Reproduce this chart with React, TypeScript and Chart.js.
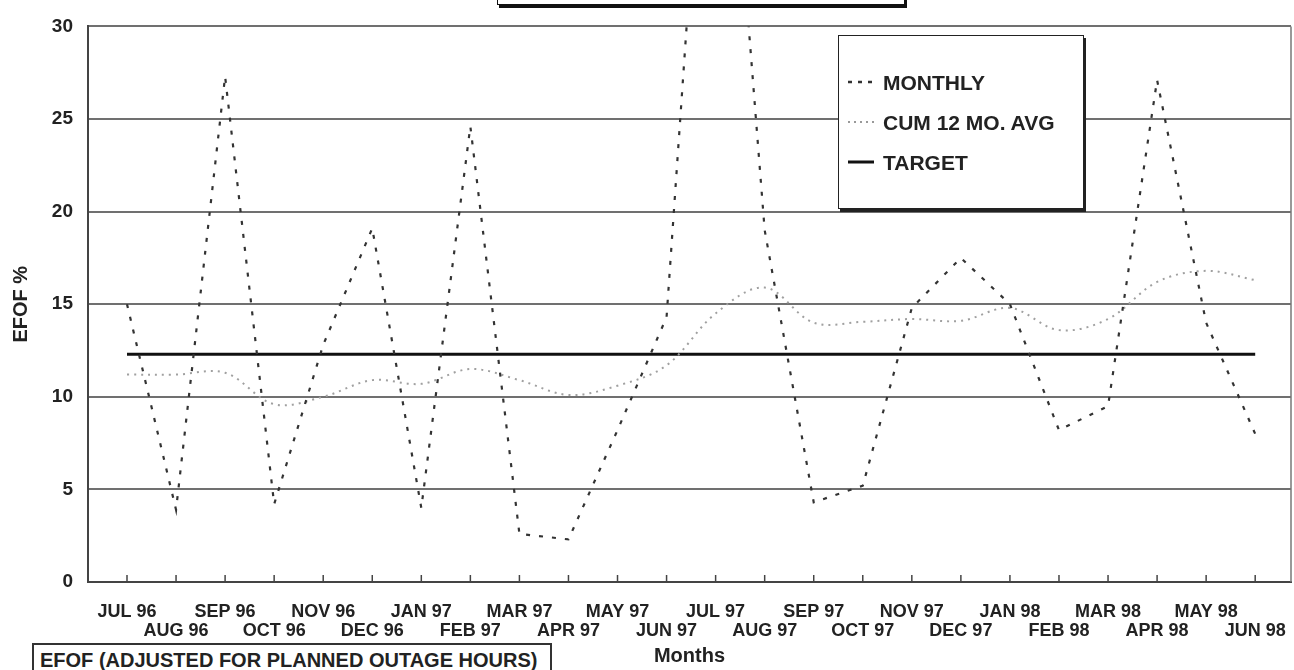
import React, { useEffect, useRef } from "react";
import { Chart, registerables } from "chart.js";

Chart.register(...registerables);

const FONT = "'Liberation Sans', Arial, sans-serif";

const months = [
  "JUL 96", "AUG 96", "SEP 96", "OCT 96", "NOV 96", "DEC 96",
  "JAN 97", "FEB 97", "MAR 97", "APR 97", "MAY 97", "JUN 97",
  "JUL 97", "AUG 97", "SEP 97", "OCT 97", "NOV 97", "DEC 97",
  "JAN 98", "FEB 98", "MAR 98", "APR 98", "MAY 98", "JUN 98",
];

const monthly = [
  15.0, 3.9, 27.3, 4.2, 12.8, 19.1,
  4.0, 24.6, 2.6, 2.3, 8.2, 14.3,
  52.7, 19.0, 4.3, 5.2, 14.8, 17.5,
  15.0, 8.2, 9.5, 27.1, 14.0, 8.0,
];

const cumAvg = [
  11.2, 11.2, 11.3, 9.6, 10.0, 10.9,
  10.7, 11.5, 10.9, 10.1, 10.6, 11.7,
  14.5, 15.9, 14.0, 14.05, 14.2, 14.1,
  14.8, 13.6, 14.2, 16.2, 16.8, 16.3,
];

const target = [
  12.3, 12.3, 12.3, 12.3, 12.3, 12.3,
  12.3, 12.3, 12.3, 12.3, 12.3, 12.3,
  12.3, 12.3, 12.3, 12.3, 12.3, 12.3,
  12.3, 12.3, 12.3, 12.3, 12.3, 12.3,
];

const yTicks = [0, 5, 10, 15, 20, 25, 30];

const toPoints = (arr: number[]) => arr.map((v, i) => ({ x: i, y: v }));

const framePlugin = {
  id: "frame",
  afterDraw(chart: any) {
    const { ctx, chartArea } = chart;
    const xs = chart.scales.x;
    ctx.save();
    ctx.strokeStyle = "#444";
    ctx.lineWidth = 1.5;
    months.forEach((_, i) => {
      const px = xs.getPixelForValue(i);
      ctx.beginPath();
      ctx.moveTo(px, chartArea.bottom);
      ctx.lineTo(px, chartArea.bottom - 7);
      ctx.stroke();
    });
    ctx.strokeStyle = "#777";
    ctx.lineWidth = 1.5;
    ctx.beginPath();
    ctx.moveTo(chartArea.right, chartArea.top);
    ctx.lineTo(chartArea.right, chartArea.bottom);
    ctx.stroke();
    ctx.restore();
  },
};

function ChartCanvas() {
  const ref = useRef<HTMLCanvasElement | null>(null);
  useEffect(() => {
    if (!ref.current) return;
    const chart = new Chart(ref.current, {
      type: "line",
      data: {
        datasets: [
          {
            label: "MONTHLY",
            data: toPoints(monthly),
            borderColor: "#333",
            borderWidth: 2.2,
            borderDash: [4, 9],
            pointRadius: 0,
            tension: 0,
          },
          {
            label: "CUM 12 MO. AVG",
            data: toPoints(cumAvg),
            borderColor: "#a0a0a0",
            borderWidth: 2,
            borderDash: [2, 5],
            pointRadius: 0,
            tension: 0.35,
          },
          {
            label: "TARGET",
            data: toPoints(target),
            borderColor: "#111",
            borderWidth: 3,
            pointRadius: 0,
            tension: 0,
          },
        ],
      },
      options: {
        responsive: false,
        animation: false,
        events: [],
        layout: { padding: { top: 19, right: 3, left: 0, bottom: 0 } },
        plugins: {
          legend: { display: false },
          tooltip: { enabled: false },
        },
        scales: {
          x: {
            type: "linear",
            min: -0.795,
            max: 23.73,
            afterBuildTicks: (s: any) => {
              s.ticks = months.map((_, i) => ({ value: i }));
            },
            afterFit: (s: any) => {
              s.height = 88;
              s.paddingLeft = 0;
              s.paddingRight = 0;
            },
            ticks: {
              autoSkip: false,
              maxRotation: 0,
              minRotation: 0,
              padding: 13,
              color: "#222",
              font: { family: FONT, size: 18, weight: "bold", lineHeight: 1.03 },
              callback: (v: any) => {
                const i = Math.round(Number(v));
                const m = months[i] ?? "";
                return i % 2 === 0 ? [m, ""] : ["", m];
              },
            },
            grid: { display: false },
            border: { display: true, color: "#444", width: 2 },
            title: {
              display: true,
              text: "Months",
              color: "#222",
              font: { family: FONT, size: 20, weight: "bold" },
              padding: { top: 0, bottom: 2 },
            },
          },
          y: {
            min: 0,
            max: 30,
            afterBuildTicks: (s: any) => {
              s.ticks = yTicks.map((v) => ({ value: v }));
            },
            afterFit: (s: any) => {
              s.width = 88;
            },
            ticks: {
              padding: 15,
              color: "#222",
              font: { family: FONT, size: 19, weight: "bold" },
            },
            grid: { color: "#707070", lineWidth: 2, drawTicks: false },
            border: { display: true, color: "#444", width: 2 },
            title: {
              display: true,
              text: "EFOF %",
              color: "#222",
              font: { family: FONT, size: 20, weight: "bold" },
              padding: { top: 9, bottom: 0 },
            },
          },
        },
      },
      plugins: [framePlugin],
    } as any);
    return () => chart.destroy();
  }, []);
  return (
    <canvas
      ref={ref}
      width={1294}
      height={670}
      style={{ position: "absolute", left: 0, top: 0, width: 1294, height: 670 }}
    />
  );
}

const legendItems = [
  { label: "MONTHLY", color: "#333", dash: "4 6", width: 2.5 },
  { label: "CUM 12 MO. AVG", color: "#999", dash: "2 4", width: 2 },
  { label: "TARGET", color: "#111", dash: "", width: 3 },
];

export default function App() {
  return (
    <div
      style={{
        position: "fixed",
        left: 0,
        top: 0,
        width: 1294,
        height: 670,
        background: "#fff",
        overflow: "hidden",
        fontFamily: FONT,
        color: "#222",
      }}
    >
      <ChartCanvas />
      {/* title box (mostly cut off at the top) */}
      <div
        style={{
          position: "absolute",
          left: 497,
          top: -40,
          width: 408,
          height: 45,
          boxSizing: "border-box",
          border: "1.5px solid #111",
          boxShadow: "2px 3px 0 #111",
          background: "#fff",
        }}
      />
      {/* legend box */}
      <div
        style={{
          position: "absolute",
          left: 838,
          top: 35,
          width: 246,
          height: 174,
          boxSizing: "border-box",
          border: "1.5px solid #222",
          boxShadow: "2px 3px 0 #222",
          background: "#fff",
        }}
      />
      {legendItems.map((it, k) => (
        <div key={it.label}>
          <svg
            width={26}
            height={6}
            style={{ position: "absolute", left: 848, top: 79 + k * 40 }}
          >
            <line
              x1={0}
              y1={3}
              x2={26}
              y2={3}
              stroke={it.color}
              strokeWidth={it.width}
              strokeDasharray={it.dash || undefined}
            />
          </svg>
          <div
            style={{
              position: "absolute",
              left: 883,
              top: 72 + k * 40,
              fontSize: 21,
              lineHeight: "21px",
              fontWeight: "bold",
              whiteSpace: "nowrap",
              color: "#222",
            }}
          >
            {it.label}
          </div>
        </div>
      ))}
      {/* bottom-left note box */}
      <div
        style={{
          position: "absolute",
          left: 32,
          top: 643,
          width: 520,
          height: 50,
          boxSizing: "border-box",
          border: "2px solid #333",
          padding: "5px 0 0 6px",
          fontSize: 20,
          lineHeight: "20px",
          fontWeight: "bold",
          whiteSpace: "nowrap",
          background: "#fff",
        }}
      >
        EFOF (ADJUSTED FOR PLANNED OUTAGE HOURS)
      </div>
    </div>
  );
}
